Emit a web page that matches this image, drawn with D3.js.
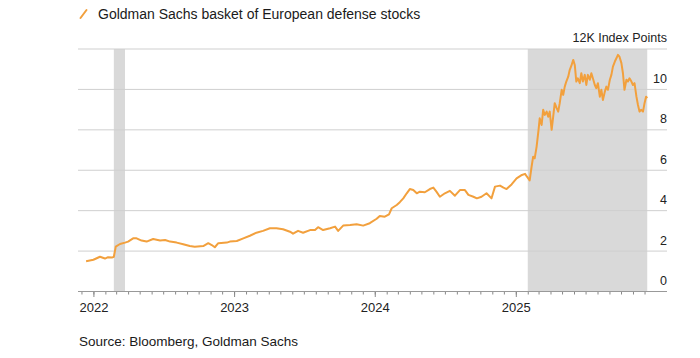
<!DOCTYPE html>
<html>
<head>
<meta charset="utf-8">
<script src="https://cdn.jsdelivr.net/npm/d3@7/dist/d3.min.js"></script>
<style>
  html, body { margin: 0; padding: 0; background: #fff; }
  svg { display: block; font-family: "Liberation Sans", Arial, sans-serif; }
</style>
</head>
<body>
<svg id="chart" width="700" height="358"></svg>
<script>
// ---- data ----
const seriesName = "Goldman Sachs basket of European defense stocks";
const unitLabel = "12K Index Points";
const sourceText = "Source: Bloomberg, Goldman Sachs";

const dates = [
  "2021-12-13","2022-01-01","2022-01-18","2022-01-31","2022-02-08","2022-02-18","2022-02-23",
  "2022-02-28","2022-03-11","2022-03-24","2022-04-01","2022-04-14","2022-04-23","2022-05-06",
  "2022-05-19","2022-06-05","2022-06-23","2022-07-06","2022-07-19","2022-08-05","2022-08-22",
  "2022-09-08","2022-09-21","2022-10-13","2022-10-26","2022-11-04","2022-11-12","2022-11-21",
  "2022-12-13","2022-12-21",
  "2023-01-08","2023-01-25","2023-02-11","2023-02-28","2023-03-17","2023-04-04","2023-04-21",
  "2023-05-08","2023-05-26","2023-06-03","2023-06-16","2023-06-29","2023-07-17","2023-07-30",
  "2023-08-07","2023-08-20","2023-09-07","2023-09-20","2023-09-28","2023-10-11","2023-10-29",
  "2023-11-15","2023-12-02","2023-12-19",
  "2024-01-06","2024-01-14","2024-01-27","2024-02-07","2024-02-14","2024-02-27","2024-03-06",
  "2024-03-15","2024-03-24","2024-04-01","2024-04-10","2024-04-19","2024-04-27","2024-05-10",
  "2024-05-23","2024-06-01","2024-06-09","2024-06-18","2024-07-01","2024-07-14","2024-07-27",
  "2024-08-09","2024-08-22","2024-08-31","2024-09-13","2024-09-22","2024-10-04","2024-10-17",
  "2024-10-30","2024-11-08","2024-11-21","2024-11-30","2024-12-08","2024-12-21",
  "2025-01-03","2025-01-15","2025-01-25","2025-01-30","2025-02-06","2025-02-11","2025-02-15",
  "2025-02-19","2025-02-24","2025-03-01","2025-03-04","2025-03-09","2025-03-13","2025-03-17",
  "2025-03-22","2025-03-26","2025-03-30","2025-04-04","2025-04-08","2025-04-12","2025-04-17",
  "2025-04-21","2025-04-25","2025-04-30","2025-05-04","2025-05-08","2025-05-12","2025-05-17",
  "2025-05-21","2025-05-25","2025-05-30","2025-06-03","2025-06-07","2025-06-11","2025-06-16",
  "2025-06-20","2025-06-24","2025-06-29","2025-07-03","2025-07-07","2025-07-12","2025-07-16",
  "2025-07-20","2025-07-25","2025-07-29","2025-08-02","2025-08-07","2025-08-11","2025-08-15",
  "2025-08-20","2025-08-24","2025-08-28","2025-09-02","2025-09-06","2025-09-10","2025-09-15",
  "2025-09-19","2025-09-23","2025-09-27","2025-10-02","2025-10-06","2025-10-10","2025-10-15",
  "2025-10-19","2025-10-23","2025-10-28","2025-11-01","2025-11-05","2025-11-10","2025-11-14",
  "2025-11-18","2025-11-22","2025-11-27","2025-12-01","2025-12-05","2025-12-08"
];
const values = [
  1.50,1.57,1.72,1.63,1.70,1.68,1.72,
  2.22,2.35,2.42,2.47,2.63,2.63,2.52,
  2.47,2.60,2.52,2.55,2.47,2.42,2.34,
  2.25,2.22,2.25,2.39,2.30,2.19,2.39,
  2.42,2.47,
  2.50,2.63,2.76,2.91,3.00,3.13,3.13,
  3.08,2.96,2.86,3.00,2.91,3.04,3.04,
  3.18,3.04,3.13,3.21,3.00,3.26,3.29,
  3.33,3.26,3.38,
  3.60,3.74,3.70,3.82,4.12,4.28,4.42,
  4.61,4.86,5.07,5.02,4.86,4.94,4.91,
  5.07,5.14,4.94,4.69,4.86,4.98,4.74,
  5.02,5.02,4.78,4.69,4.61,4.69,4.86,
  4.61,5.19,5.24,5.14,5.07,5.30,
  5.60,5.75,5.82,5.68,5.50,6.18,6.67,
  6.59,7.17,8.00,8.57,8.24,8.99,8.74,
  8.90,8.65,8.90,8.00,8.65,9.32,9.07,
  8.90,9.32,9.98,9.73,10.14,10.39,10.63,
  10.97,11.16,11.46,11.21,10.39,10.55,10.31,
  10.80,10.39,10.72,10.22,10.72,10.48,10.80,
  10.55,10.22,10.06,10.31,9.64,9.98,9.48,
  9.89,10.14,9.98,10.48,10.72,11.13,11.38,
  11.54,11.71,11.62,11.30,10.80,9.98,10.48,
  10.39,10.55,10.39,10.22,10.31,9.64,9.23,
  8.90,8.99,8.90,9.32,9.64,9.57
];
const shadedPeriods = [["2022-02-23","2022-03-24"],["2025-02-01","2025-12-08"]];
const yTicks = [0,2,4,6,8,10,12];
const yTickLabels = ["0","2","4","6","8","10",""];
const xDomain = ["2021-11-22","2025-12-10"];

// ---- layout ----
const W = 700, H = 358;
const plotLeft = 78, plotRight = 648, gridRight = 667;
const plotTop = 49, plotBottom = 291.5;
const lineColor = "#f2a03d";

const parse = d3.utcParse("%Y-%m-%d");
const data = dates.map((d, i) => ({ date: parse(d), value: values[i] }));

const x = d3.scaleUtc().domain(xDomain.map(parse)).range([plotLeft, plotRight]);
const y = d3.scaleLinear().domain([0, 12]).range([plotBottom, plotTop]);

const svg = d3.select("#chart");

// shaded periods
svg.append("g").selectAll("rect").data(shadedPeriods).join("rect")
  .attr("x", d => x(parse(d[0])))
  .attr("width", d => x(parse(d[1])) - x(parse(d[0])))
  .attr("y", y(12))
  .attr("height", y(0) - y(12))
  .attr("fill", "#d9d9d9");

// gridlines
svg.append("g").selectAll("line").data(yTicks.filter(t => t > 0)).join("line")
  .attr("x1", plotLeft).attr("x2", gridRight)
  .attr("y1", d => y(d)).attr("y2", d => y(d))
  .attr("stroke", "#cfcfcf").attr("stroke-width", 1);

// y labels
svg.append("g").selectAll("text").data(yTicks).join("text")
  .attr("x", gridRight)
  .attr("y", d => y(d) - 6.5)
  .attr("text-anchor", "end")
  .attr("font-size", 12.5)
  .attr("fill", "#222")
  .text((d, i) => yTickLabels[i]);

svg.append("text")
  .attr("x", gridRight).attr("y", y(12) - 7.5)
  .attr("text-anchor", "end")
  .attr("font-size", 12.5)
  .attr("fill", "#222")
  .text(unitLabel);

// x axis: minor monthly ticks
const minorAxis = d3.axisBottom(x)
  .ticks(d3.utcMonth.every(1))
  .tickSize(3)
  .tickFormat("");
const gMinor = svg.append("g").attr("transform", `translate(0,${plotBottom})`).call(minorAxis);
gMinor.select(".domain").remove();
gMinor.selectAll("line").attr("stroke", "#888");

const majorAxis = d3.axisBottom(x)
  .ticks(d3.utcYear.every(1))
  .tickSize(5.5)
  .tickPadding(6)
  .tickFormat(d3.utcFormat("%Y"));
const gMajor = svg.append("g").attr("transform", `translate(0,${plotBottom})`).call(majorAxis);
gMajor.select(".domain").remove();
gMajor.selectAll("line").attr("stroke", "#888");
gMajor.selectAll("text")
  .attr("font-size", 13)
  .attr("font-family", "Liberation Sans, Arial, sans-serif")
  .attr("fill", "#222");

svg.append("line")
  .attr("x1", plotLeft).attr("x2", gridRight)
  .attr("y1", plotBottom).attr("y2", plotBottom)
  .attr("stroke", "#999").attr("stroke-width", 1);

// series line
const line = d3.line().x(d => x(d.date)).y(d => y(d.value)).curve(d3.curveLinear);
svg.append("path").datum(data)
  .attr("d", line)
  .attr("fill", "none")
  .attr("stroke", lineColor)
  .attr("stroke-width", 2)
  .attr("stroke-linejoin", "round");

// legend
svg.append("line")
  .attr("x1", 80.5).attr("y1", 18).attr("x2", 86.5).attr("y2", 10)
  .attr("stroke", lineColor).attr("stroke-width", 2).attr("stroke-linecap", "round");
svg.append("text")
  .attr("x", 98).attr("y", 19)
  .attr("font-size", 14)
  .attr("fill", "#1a1a1a")
  .text(seriesName);

// source
svg.append("text")
  .attr("x", 79).attr("y", 345.5)
  .attr("font-size", 13.5)
  .attr("fill", "#1a1a1a")
  .text(sourceText);
</script>
</body>
</html>
